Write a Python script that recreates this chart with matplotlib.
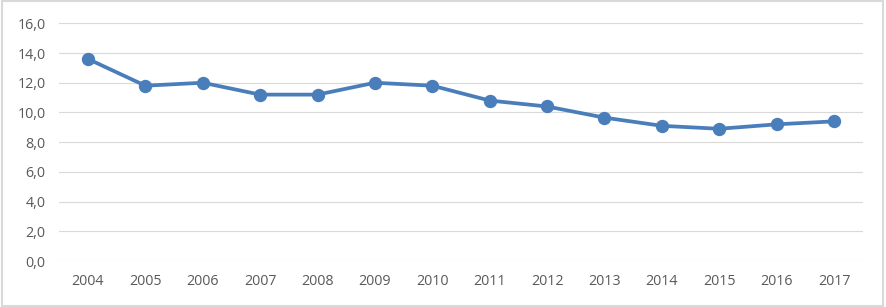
import matplotlib

matplotlib.use("Agg")
import matplotlib.pyplot as plt
from matplotlib.patches import Rectangle

years = ["2004", "2005", "2006", "2007", "2008", "2009", "2010",
         "2011", "2012", "2013", "2014", "2015", "2016", "2017"]
values = [13.6, 11.8, 12.0, 11.2, 11.2, 12.0, 11.8,
          10.8, 10.4, 9.65, 9.1, 8.9, 9.2, 9.4]
y_ticks = [0, 2, 4, 6, 8, 10, 12, 14, 16]

LINE = "#4A7EBB"
GRID = "#D9D9D9"
TEXT = "#595959"

plt.rcParams["font.family"] = ["Open Sans", "DejaVu Sans"]

fig = plt.figure(figsize=(8.86, 3.07), dpi=100)
ax = fig.add_axes([0.0669, 0.1498, 0.9068, 0.7743])

x = list(range(len(years)))
ax.plot(x, values, color=LINE, linewidth=2.7, marker="o", markersize=8.6,
        markerfacecolor=LINE, markeredgecolor=LINE, solid_capstyle="round",
        zorder=3)

ax.set_xlim(-0.5, len(years) - 0.5)
ax.set_ylim(0, 16)
ax.set_yticks(y_ticks)
ax.set_yticklabels([f"{v:.1f}".replace(".", ",") for v in y_ticks])
ax.set_xticks(x)
ax.set_xticklabels(years)
ax.tick_params(axis="both", length=0, labelsize=10.3, colors=TEXT)
ax.tick_params(axis="y", pad=10)
ax.tick_params(axis="x", pad=9)

ax.grid(True, axis="y", color=GRID, linewidth=0.8)
ax.set_axisbelow(True)
for s in ax.spines.values():
    s.set_visible(False)

# light frame around the chart area
fig.patches.append(Rectangle((0.002, 0.004), 0.995, 0.992,
                             transform=fig.transFigure, fill=False,
                             edgecolor=GRID, linewidth=1.5))

fig.savefig("out.png", dpi=100)
